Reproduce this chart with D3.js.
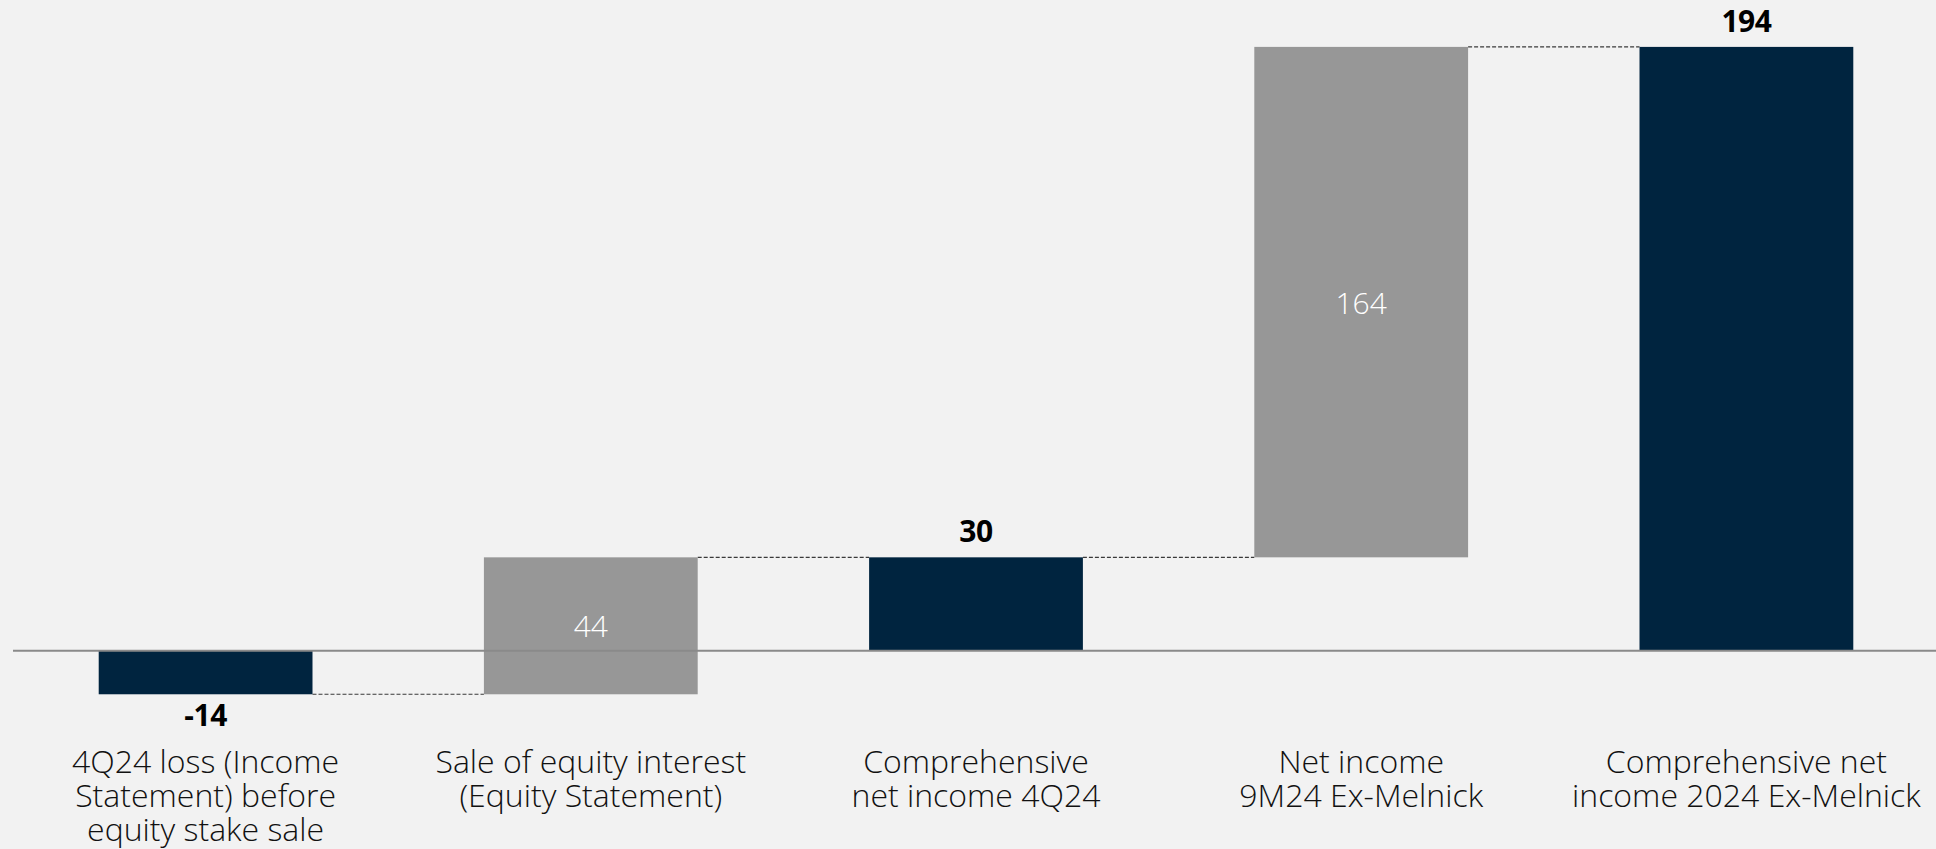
<!DOCTYPE html>
<html><head><meta charset="utf-8">
<script src="https://cdn.jsdelivr.net/npm/d3@7"></script>
<style>html,body{margin:0;padding:0;background:#f2f2f2;overflow:hidden}</style>
</head><body><svg id="c" width="1936" height="849"></svg>
<script>
const categories = [
  ["4Q24 loss (Income", "Statement) before", "equity stake sale"],
  ["Sale of equity interest", "(Equity Statement)"],
  ["Comprehensive", "net income 4Q24"],
  ["Net income", "9M24 Ex-Melnick"],
  ["Comprehensive net", "income 2024 Ex-Melnick"]
];
const values = [-14, 44, 30, 164, 194];
const kinds = ["total", "delta", "total", "delta", "total"];

const W = 1936, H = 849;
const svg = d3.select("#c");
svg.append("rect").attr("width", W).attr("height", H).attr("fill", "#f2f2f2");

// build waterfall extents
let run = 0;
const bars = values.map((v, i) => {
  let lo, hi;
  if (kinds[i] === "total") { lo = Math.min(0, v); hi = Math.max(0, v); run = v; }
  else { lo = run; hi = run + v; run = hi; }
  return { i, v, kind: kinds[i], lo, hi, end: run };
});

const x = d3.scaleBand().domain(d3.range(values.length)).range([13, 1939]).paddingInner(0.445).paddingOuter(0.2225);
const y = d3.scaleLinear().domain([0, 194]).range([650.7, 46.9]);

const navy = "#00243f", grey = "#979797";

// connectors
const conn = svg.append("g");
for (let k = 0; k < bars.length - 1; k++) {
  const level = bars[k].end;
  conn.append("line")
    .attr("x1", x(k) + x.bandwidth()).attr("x2", x(k + 1))
    .attr("y1", y(level)).attr("y2", y(level))
    .attr("stroke", "#3a3a3a").attr("stroke-width", 1.2).attr("stroke-dasharray", "4,2");
}

// bars
svg.append("g").selectAll("rect").data(bars).join("rect")
  .attr("x", d => x(d.i)).attr("width", x.bandwidth())
  .attr("y", d => y(d.hi)).attr("height", d => y(d.lo) - y(d.hi))
  .attr("fill", d => d.kind === "total" ? navy : grey);

// axis baseline
svg.append("line").attr("x1", 13).attr("x2", W).attr("y1", y(0)).attr("y2", y(0))
  .attr("stroke", "#8a8a8a").attr("stroke-width", 2);

// value labels
const lab = svg.append("g").attr("font-family", "'Open Sans', Lato, sans-serif");
bars.forEach(d => {
  const cx = x(d.i) + x.bandwidth() / 2;
  if (d.kind === "total") {
    const yy = d.v >= 0 ? y(d.hi) - 15 : y(d.lo) + 6;
    lab.append("text").attr("x", cx).attr("y", yy)
      .attr("text-anchor", "middle").attr("dominant-baseline", d.v >= 0 ? "auto" : "hanging")
      .attr("font-size", 30).attr("font-weight", 700).attr("fill", "#000")
      .attr("letter-spacing", -0.5)
      .text(d.v);
  } else {
    lab.append("text").attr("x", cx).attr("y", (y(d.hi) + y(d.lo)) / 2)
      .attr("text-anchor", "middle").attr("dominant-baseline", "central")
      .attr("font-size", 30).attr("font-weight", 300).attr("fill", "#fff")
      .text(d.v);
  }
});

// category labels
const cat = svg.append("g").attr("font-family", "'Open Sans', Lato, sans-serif")
  .attr("font-size", 32).attr("font-weight", 300).attr("fill", "#111");
categories.forEach((lines, i) => {
  const cx = x(i) + x.bandwidth() / 2;
  const t = cat.append("text").attr("x", cx).attr("y", 773).attr("text-anchor", "middle");
  lines.forEach((s, j) => t.append("tspan").attr("x", cx).attr("dy", j === 0 ? 0 : 34).text(s));
});
</script></body></html>
